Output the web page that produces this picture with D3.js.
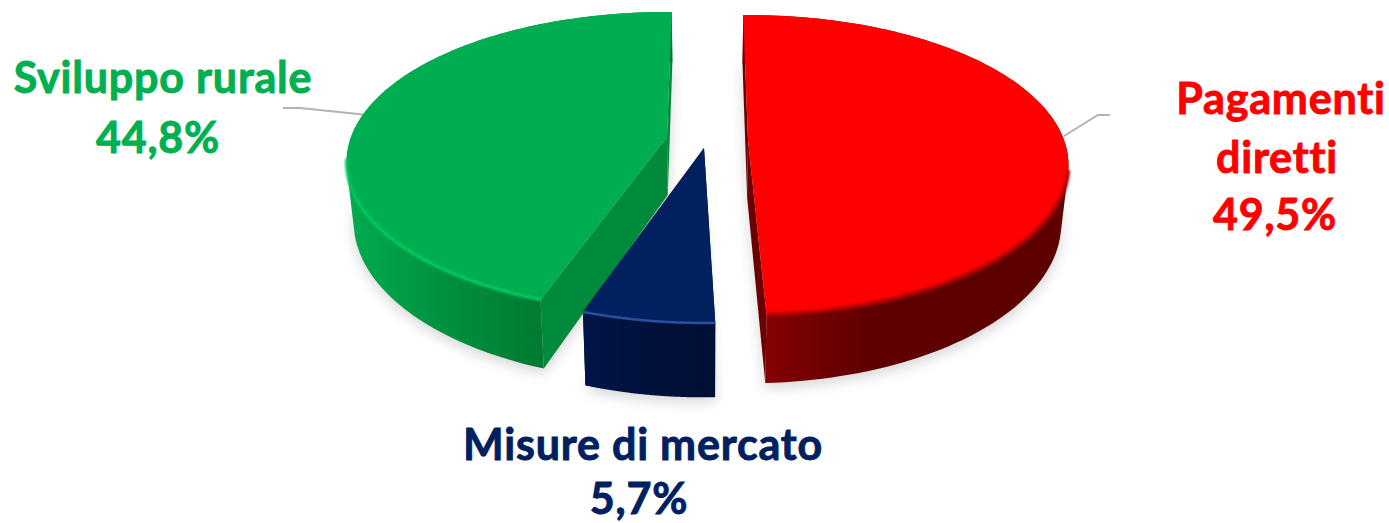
<!DOCTYPE html>
<html><head><meta charset="utf-8">
<script src="https://cdnjs.cloudflare.com/ajax/libs/d3/7.8.5/d3.min.js"></script>
<style>html,body{margin:0;padding:0;background:#fff}svg{display:block}text{font-family:Lato,"Open Sans",sans-serif;font-weight:700;text-anchor:middle}</style>
</head><body><svg id="c" width="1389" height="523"></svg>
<script>
const categories = ["Pagamenti diretti", "Misure di mercato", "Sviluppo rurale"];
const values = [49.5, 5.7, 44.8];
const valueLabels = ["49,5%", "5,7%", "44,8%"];

const deg = Math.PI / 180;
const svg = d3.select("#c");
const defs = svg.append("defs");

// projection constants
const B = 316, A = 145.8, P = 1 / 6, VX = 705, CONV = 0.02;
const apexes = [[748, 140], [704, 148], [667, 137]];
const rotations = [0, 1.1, 2];
const depths = [57, 62, 58];
const looks = [
  {top:"#ff0000", cut:"#6a0000", rim:"#b00000", rimW:4, rimBlur:1.2, side:[[0,"#840000"],[.35,"#5f0000"],[1,"#5c0000"]], x:[765,1069], rimFrom:100, rimTo:181},
  {top:"#002060", cut:"#001038", rim:"#2c4f9f", rimW:2.5, rimBlur:.7, side:[[0,"#001548"],[.5,"#00113a"],[1,"#000f33"]], x:[584,716], rimFrom:170, rimTo:210},
  {top:"#00ad50", cut:"#008a3c", rim:"#00cc60", rimW:3, rimBlur:.8, side:[[0,"#00ab4e"],[.5,"#008f40"],[1,"#007a32"]], x:[350,545], rimFrom:199, rimTo:262}
];

const arcs = d3.pie().sort(null).value(d => d).startAngle(-1 * deg).endAngle(359 * deg)(values);

function project(theta, r, h, apex, depth) {
  const X = r * Math.sin(theta), Z = r * Math.cos(theta), s = 1 / (1 + P * Z);
  let x = apex[0] + B * X * s, y = apex[1] - A * Z * s + h * depth * s;
  x += (VX - x) * CONV * h;
  return [x, y];
}
const line = d3.line();

const blur = (id, sd) => defs.append("filter").attr("id", id)
  .attr("x", "-20%").attr("y", "-20%").attr("width", "140%").attr("height", "140%")
  .append("feGaussianBlur").attr("stdDeviation", sd);
blur("shadow", 7);
looks.forEach((l, i) => {
  blur("rim" + i, l.rimBlur);
  const g = defs.append("linearGradient").attr("id", "side" + i).attr("gradientUnits", "userSpaceOnUse")
    .attr("x1", l.x[0]).attr("x2", l.x[1]).attr("y1", 0).attr("y2", 0);
  l.side.forEach(s => g.append("stop").attr("offset", s[0]).attr("stop-color", s[1]));
});

const slices = arcs.map((a, i) => {
  const rot = rotations[i] * deg, t0 = a.startAngle + rot, t1 = a.endAngle + rot;
  const thetas = d3.range(0, 121).map(k => t0 + (t1 - t0) * k / 120);
  return {i, t0, t1, thetas, apex: apexes[i], look: looks[i], depth: depths[i]};
});

// soft shadow below each slice
svg.append("g").selectAll("path").data(slices).join("path")
  .attr("d", d => line([project(0, 0, 1, d.apex, d.depth), ...d.thetas.map(t => project(t, 1, 1, d.apex, d.depth))]) + "Z")
  .attr("fill", "#000").attr("opacity", .16).attr("transform", "translate(0,5)").attr("filter", "url(#shadow)");

// leader lines
const leaders = [[[1064,136],[1098,115],[1110,115]], [[283,108],[300,108],[363,114.5]]];
svg.append("g").selectAll("path").data(leaders).join("path")
  .attr("d", d => line(d)).attr("fill", "none").attr("stroke", "#b3b3b3").attr("stroke-width", 2);

// draw order: red, green, blue
[0, 2, 1].forEach(i => {
  const d = slices[i], l = d.look, g = svg.append("g");
  const ap = d.apex, pt = (t, h) => project(t, 1, h, ap, d.depth), c0 = project(0, 0, 0, ap, d.depth), c1 = project(0, 0, 1, ap, d.depth);
  [d.t0, d.t1].forEach(t => g.append("path")
    .attr("d", line([c0, pt(t, 0), pt(t, 1), c1]) + "Z").attr("fill", l.cut));
  // side wall: quads of one winding in a single path, so their union fills without seams
  const wall = d3.pairs(d.thetas).map(([a, b]) => {
    const q = [pt(a, 0), pt(b, 0), pt(b, 1), pt(a, 1)];
    return line(d3.polygonArea(q) < 0 ? q.reverse() : q) + "Z";
  }).join("");
  g.append("path").attr("d", wall).attr("fill", `url(#side${i})`).attr("fill-rule", "nonzero");
  g.append("path")
    .attr("d", line([c0, ...d.thetas.map(t => pt(t, 0))]) + "Z").attr("fill", l.top);
  const rim = d.thetas.filter(t => t >= l.rimFrom * deg && t <= l.rimTo * deg).map(t => pt(t, 0));
  g.append("path").attr("d", line(rim)).attr("fill", "none").attr("stroke", l.rim)
    .attr("stroke-width", l.rimW).attr("filter", `url(#rim${i})`);
});

// labels
const labelRows = [
  {t:"Pagamenti", x:1281, y:114, c:"#ff0000"},
  {t:"diretti", x:1277, y:173, c:"#ff0000"},
  {t:valueLabels[0], x:1275, y:230, c:"#ff0000"},
  {t:categories[2], x:163, y:93, c:"#00b050"},
  {t:valueLabels[2], x:158, y:153, c:"#00b050"},
  {t:categories[1], x:643, y:460, c:"#002060"},
  {t:valueLabels[1], x:639, y:514, c:"#002060"}
];
svg.append("g").selectAll("text").data(labelRows).join("text")
  .attr("x", d => d.x).attr("y", d => d.y).attr("fill", d => d.c).attr("stroke", d => d.c).attr("stroke-width", .9)
  .attr("font-size", 43).attr("letter-spacing", .8).text(d => d.t);
</script></body></html>
